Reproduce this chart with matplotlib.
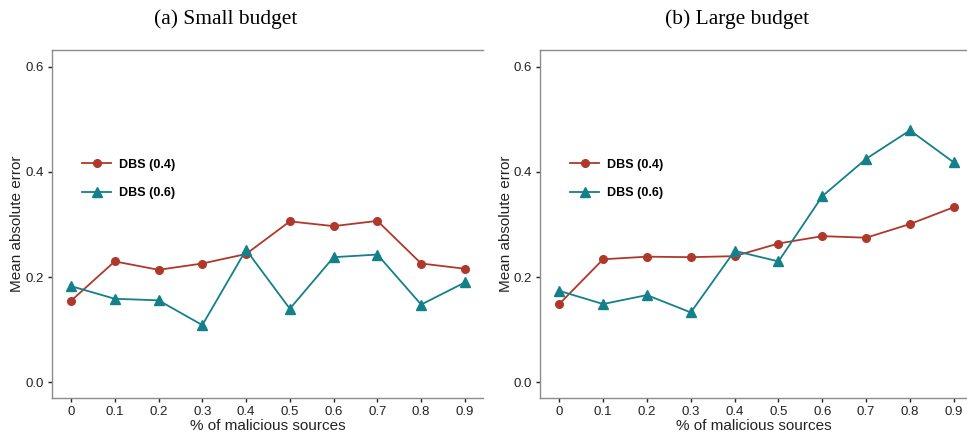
import numpy as np
import matplotlib
matplotlib.use("Agg")
import matplotlib.pyplot as plt

# % of malicious sources
x = [0, 0.1, 0.2, 0.3, 0.4, 0.5, 0.6, 0.7, 0.8, 0.9]
xticklabels = ["0", "0.1", "0.2", "0.3", "0.4", "0.5", "0.6", "0.7", "0.8", "0.9"]

# (a) small budget
small_dbs04 = [0.155, 0.230, 0.214, 0.226, 0.244, 0.306, 0.297, 0.307, 0.226, 0.216]
small_dbs06 = [0.183, 0.159, 0.156, 0.109, 0.252, 0.140, 0.238, 0.243, 0.148, 0.190]

# (b) large budget
large_dbs04 = [0.149, 0.234, 0.239, 0.238, 0.240, 0.264, 0.278, 0.275, 0.301, 0.333]
large_dbs06 = [0.174, 0.149, 0.166, 0.133, 0.250, 0.230, 0.354, 0.425, 0.479, 0.418]

titles = ["(a) Small budget", "(b) Large budget"]
labels = ["DBS (0.4)", "DBS (0.6)"]

red = "#b0382b"
teal = "#13808a"
spine_col = "#8c8c8c"

plt.rcParams['font.family'] = ['Liberation Sans', 'DejaVu Sans']

fig = plt.figure(figsize=(9.67, 4.32), dpi=100)
ax1 = fig.add_axes([0.0535, 0.0794, 0.4463, 0.804])
ax2 = fig.add_axes([0.5584, 0.0794, 0.4416, 0.804])

panels = [(ax1, small_dbs04, small_dbs06, 0.942, 226),
          (ax2, large_dbs04, large_dbs06, 0.93, 737)]

for i, (ax, s04, s06, xmax, tx) in enumerate(panels):
    ax.plot(x, s04, color=red, marker="o", markersize=5.5, lw=1.3, label=labels[0])
    ax.plot(x, s06, color=teal, marker="^", markersize=7.5, lw=1.3, label=labels[1])

    ax.set_xlim(-0.044, xmax)
    ax.set_ylim(-0.029, 0.631)
    ax.set_xticks(x)
    ax.set_xticklabels(xticklabels)
    ax.set_yticks([0.0, 0.2, 0.4, 0.6])
    ax.set_yticklabels(["0.0", "0.2", "0.4", "0.6"])

    ax.spines["right"].set_visible(False)
    for side in ["left", "top", "bottom"]:
        ax.spines[side].set_color(spine_col)
        ax.spines[side].set_linewidth(1.0)
    ax.tick_params(direction="out", length=3, width=1, color="#222222",
                   labelsize=9.5, labelcolor="#222222", pad=3)

    ax.set_xlabel("% of malicious sources", fontsize=11, labelpad=1, color="#222222")
    ax.set_ylabel("Mean absolute error", fontsize=11, labelpad=0.5, color="#222222")

    fig.text(tx / 967, 1 - 19 / 432, titles[i], ha="center", va="center",
             fontsize=15.5, family=["Liberation Serif", "DejaVu Serif"])

    ax.legend(loc="upper left", bbox_to_anchor=(0.045, 0.72), frameon=False,
              prop={"weight": "bold", "size": 9}, handlelength=2.3,
              handletextpad=0.6, labelspacing=1.3)

fig.savefig("out.png", dpi=100)
